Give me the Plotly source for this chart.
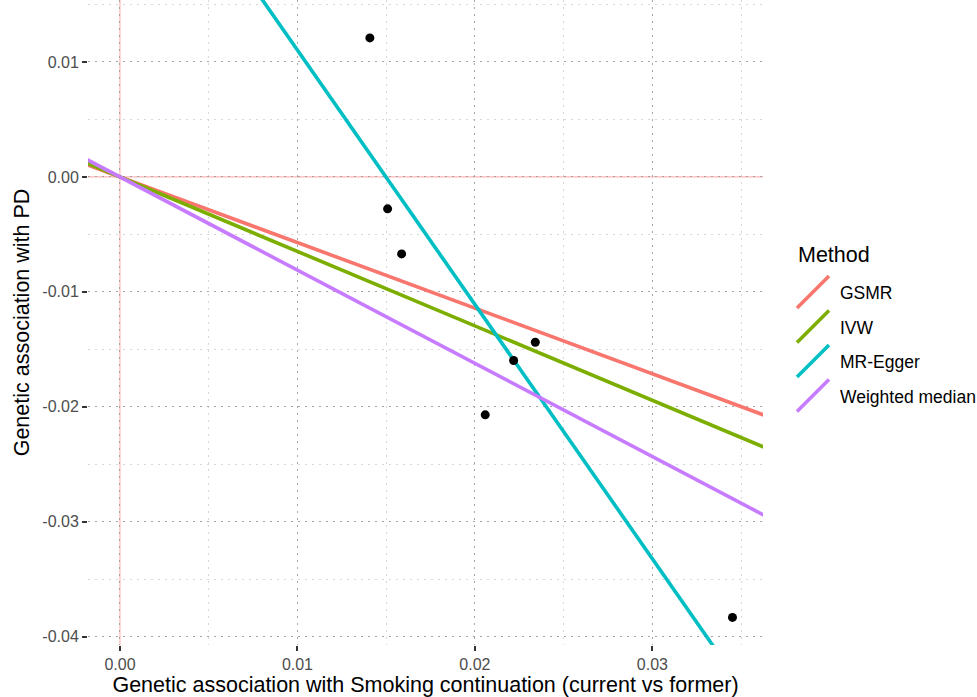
import plotly.graph_objects as go

# Data
snp_x = [0.01408, 0.01508, 0.01587, 0.02340, 0.02218, 0.02058, 0.03451]
snp_y = [0.01209, -0.00278, -0.00670, -0.01438, -0.01597, -0.02070, -0.03832]

methods = ["GSMR", "IVW", "MR-Egger", "Weighted median"]
slopes = [-0.571, -0.648, -2.213, -0.811]
intercepts = [0.0, 0.0, 0.03316, 0.0]
colors = ["#F8766D", "#7CAE00", "#00BFC4", "#C77CFF"]

x_range = [-0.0018, 0.03623]
y_range = [-0.04072, 0.01539]

x_ticks = [0.00, 0.01, 0.02, 0.03]
x_ticklabels = ["0.00", "0.01", "0.02", "0.03"]
y_ticks = [0.01, 0.00, -0.01, -0.02, -0.03, -0.04]
y_ticklabels = ["0.01", "0.00", "-0.01", "-0.02", "-0.03", "-0.04"]

W, H = 977, 697
ML, MR, MT, MB = 88, 214, 0, 52
PW, PH = W - ML - MR, H - MT - MB


def px_x(p):
    return (p - ML) / PW


def px_y(p):
    return 1 - (p - MT) / PH


fig = go.Figure()

for m, b, a, c in zip(methods, slopes, intercepts, colors):
    xs = [x_range[0] - 0.001, x_range[1] + 0.001]
    ys = [a + b * xv for xv in xs]
    fig.add_trace(go.Scatter(
        x=xs, y=ys, mode="lines", name=m,
        line=dict(color=c, width=3.6), showlegend=False,
    ))

fig.add_trace(go.Scatter(
    x=snp_x, y=snp_y, mode="markers",
    marker=dict(color="black", size=9),
    showlegend=False,
))

grid_major = "rgba(160,160,160,0.9)"
grid_minor = "rgba(190,190,190,0.6)"
dots = "1.5px,5.5px"

fig.add_shape(type="line", xref="x", yref="paper", x0=0, x1=0, y0=0, y1=1,
              line=dict(color="rgba(255,120,120,0.4)", width=1.6), layer="below")
fig.add_shape(type="line", xref="paper", yref="y", x0=0, x1=1, y0=0, y1=0,
              line=dict(color="rgba(255,120,120,0.4)", width=1.6), layer="below")

# Legend drawn manually (ggplot-style diagonal keys)
fig.add_annotation(
    text="Method", xref="paper", yref="paper",
    x=px_x(796), y=px_y(255), xanchor="left", yanchor="middle",
    showarrow=False, font=dict(size=21.5, color="black"),
)
for i, (m, c) in enumerate(zip(methods, colors)):
    cy = 293 + i * 34.5
    fig.add_shape(type="line", xref="paper", yref="paper",
                  x0=px_x(797), y0=px_y(cy + 15), x1=px_x(829), y1=px_y(cy - 17),
                  line=dict(color=c, width=3.6))
    fig.add_annotation(
        text=m, xref="paper", yref="paper",
        x=px_x(838), y=px_y(cy), xanchor="left", yanchor="middle",
        showarrow=False, font=dict(size=17.5, color="black"),
    )

axis_font = dict(family="Liberation Sans, Arial, sans-serif", size=16, color="#4d4d4d")

fig.update_layout(
    width=W, height=H,
    margin=dict(l=ML, r=MR, t=MT, b=MB),
    plot_bgcolor="white", paper_bgcolor="white",
    showlegend=False,
    font=dict(family="Liberation Sans, Arial, sans-serif", color="black"),
    xaxis=dict(
        range=x_range, tickvals=x_ticks, ticktext=x_ticklabels,
        showgrid=True, gridcolor=grid_major, griddash=dots, gridwidth=1.3,
        minor=dict(dtick=0.005, tick0=0.005, showgrid=True, gridcolor=grid_minor, griddash=dots, gridwidth=1),
        zeroline=False, showline=False, automargin=False,
        ticks="outside", ticklen=5, tickcolor="#333333", tickwidth=1.5,
        tickfont=axis_font,
        title=dict(text="Genetic association with Smoking continuation (current vs former)",
                   font=dict(size=21.5, color="black"), standoff=2),
    ),
    yaxis=dict(
        range=y_range, tickvals=y_ticks, ticktext=y_ticklabels,
        showgrid=True, gridcolor=grid_major, griddash=dots, gridwidth=1.3,
        minor=dict(dtick=0.005, tick0=0.005, showgrid=True, gridcolor=grid_minor, griddash=dots, gridwidth=1),
        zeroline=False, showline=False, automargin=False,
        ticks="outside", ticklen=5, tickcolor="#333333", tickwidth=1.5,
        tickfont=axis_font,
        title=dict(text="Genetic association with PD", font=dict(size=21.5, color="black"), standoff=6),
    ),
)

fig.write_html("out.html", post_script="document.body.style.margin='0';",
               config={"displayModeBar": False})
